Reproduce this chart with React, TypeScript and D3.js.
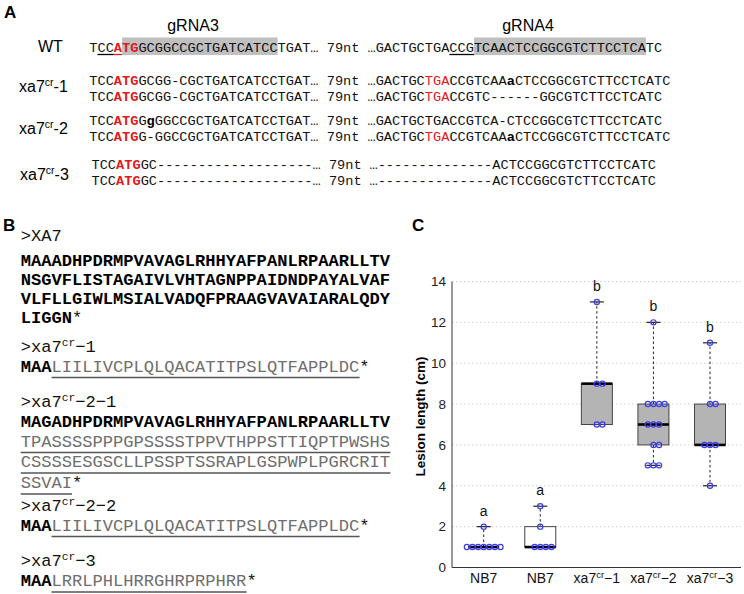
import * as d3 from 'd3'

const W = 744, H = 594

// ---- panel C data ----
const groupNames = ['NB7', 'NB7', 'xa7cr-1', 'xa7cr-2', 'xa7cr-3']
const nb7A = [1, 1, 1, 1, 1, 1, 1, 2]
const nb7B = [1, 1, 1, 1, 2, 3]
const cr1 = [7, 7, 9, 9, 13]
const cr2 = [5, 5, 5, 6, 6, 7, 7, 7, 8, 8, 8, 8, 12]
const cr3 = [4, 6, 6, 6, 8, 8, 11]
const sigLetters = ['a', 'a', 'b', 'b', 'b']
const boxFills = ['#ffffff', '#ffffff', '#b4b4b4', '#b4b4b4', '#b4b4b4']
const yTicks = [0, 2, 4, 6, 8, 10, 12, 14]

const series = [nb7A, nb7B, cr1, cr2, cr3]

const RED = '#e3191c'
const MONO = '"Liberation Mono", "Courier New", monospace'
const SANS = '"Liberation Sans", Arial, Helvetica, sans-serif'

function boxStats(vals: number[]) {
  const s = [...vals].sort(d3.ascending)
  const n = s.length
  const lo = s.slice(0, Math.ceil(n / 2))
  const hi = s.slice(Math.floor(n / 2))
  return { min: s[0], q1: d3.median(lo)!, med: d3.median(s)!, q3: d3.median(hi)!, max: s[n - 1] }
}

// points with same value sit side by side: 0, +1, -1, +2, -2 ...
function swarm(vals: number[]) {
  const seen = new Map<number, number>()
  return vals.map(v => {
    const k = seen.get(v) || 0
    seen.set(v, k + 1)
    const off = k === 0 ? 0 : k % 2 ? (k + 1) / 2 : -k / 2
    return { v, off }
  })
}

// ---- panel A sequences ----
type Seg = [string, string?]
const CW_A = 8.19
const rowsA: { y: number; x0: number; x1: number; left: Seg[]; right: Seg[] }[] = [
  { y: 51.5, x0: 89.3, x1: 367.5,
    left: [['TCC'], ['ATG', 'rb'], ['GCGGCCGCTGATCATCCTGAT… 79nt']],
    right: [['…GACTGCTGACCGTCAACTCCGGCGTCTTCCTCATC']] },
  { y: 84.5, x0: 89.3, x1: 367.5,
    left: [['TCC'], ['ATG', 'rb'], ['GCGG-CGCTGATCATCCTGAT… 79nt']],
    right: [['…GACTGC'], ['TGA', 'r'], ['CCGTCAA'], ['a', 'b'], ['CTCCGGCGTCTTCCTCATC']] },
  { y: 100.5, x0: 89.3, x1: 367.5,
    left: [['TCC'], ['ATG', 'rb'], ['GCGG-CGCTGATCATCCTGAT… 79nt']],
    right: [['…GACTGC'], ['TGA', 'r'], ['CCGTC------GGCGTCTTCCTCATC']] },
  { y: 124.5, x0: 89.3, x1: 367.5,
    left: [['TCC'], ['ATG', 'rb'], ['G'], ['g', 'b'], ['GGCCGCTGATCATCCTGAT… 79nt']],
    right: [['…GACTGCTGACCGTCA-CTCCGGCGTCTTCCTCATC']] },
  { y: 140.5, x0: 89.3, x1: 367.5,
    left: [['TCC'], ['ATG', 'rb'], ['G-GGCCGCTGATCATCCTGAT… 79nt']],
    right: [['…GACTGC'], ['TGA', 'r'], ['CCGTCAA'], ['a', 'b'], ['CTCCGGCGTCTTCCTCATC']] },
  { y: 168.5, x0: 91.5, x1: 369.5,
    left: [['TCC'], ['ATG', 'rb'], ['GC-------------------… 79nt']],
    right: [['…--------------ACTCCGGCGTCTTCCTCATC']] },
  { y: 184.5, x0: 91.5, x1: 369.5,
    left: [['TCC'], ['ATG', 'rb'], ['GC-------------------… 79nt']],
    right: [['…--------------ACTCCGGCGTCTTCCTCATC']] },
]
const labelsA = [
  { y: 52, x: 38, base: 'WT', sup: '', tail: '' },
  { y: 92, x: 19, base: 'xa7', sup: 'cr', tail: '-1' },
  { y: 134, x: 19, base: 'xa7', sup: 'cr', tail: '-2' },
  { y: 180, x: 20, base: 'xa7', sup: 'cr', tail: '-3' },
]

// ---- panel B sequences ----
const CW_B = 10.27
const XB = 20.7
const rowsB: { y: number; segs: Seg[]; ul?: [number, number] }[] = [
  { y: 241, segs: [['>XA7']] },
  { y: 266, segs: [['MAAADHPDRMPVAVAGLRHHYAFPANLRPAARLLTV', 'b']] },
  { y: 285, segs: [['NSGVFLISTAGAIVLVHTAGNPPAIDNDPAYALVAF', 'b']] },
  { y: 304, segs: [['VLFLLGIWLMSIALVADQFPRAAGVAVAIARALQDY', 'b']] },
  { y: 323, segs: [['LIGGN', 'b'], ['*']] },
  { y: 351.5, segs: [['>xa7'], ['cr', 'sup'], ['−1']] },
  { y: 371.5, segs: [['MAA', 'b'], ['LIILIVCPLQLQACATITPSLQTFAPPLDC', 'g'], ['*']], ul: [3, 33] },
  { y: 407, segs: [['>xa7'], ['cr', 'sup'], ['−2−1']] },
  { y: 426.5, segs: [['MAGADHPDRMPVAVAGLRHHYAFPANLRPAARLLTV', 'b']] },
  { y: 446.5, segs: [['TPASSSSPPPGPSSSSTPPVTHPPSTTIQPTPWSHS', 'g']], ul: [0, 36] },
  { y: 467, segs: [['CSSSSESGSCLLPSSPTSSRAPLGSPWPLPGRCRIT', 'g']], ul: [0, 36] },
  { y: 488, segs: [['SSVAI', 'g'], ['*']], ul: [0, 5] },
  { y: 510.5, segs: [['>xa7'], ['cr', 'sup'], ['−2−2']] },
  { y: 530.5, segs: [['MAA', 'b'], ['LIILIVCPLQLQACATITPSLQTFAPPLDC', 'g'], ['*']], ul: [3, 33] },
  { y: 565.5, segs: [['>xa7'], ['cr', 'sup'], ['−3']] },
  { y: 586, segs: [['MAA', 'b'], ['LRRLPHLHRRGHRPRPHRR', 'g'], ['*']], ul: [3, 22] },
]

function segStyle(k?: string) {
  if (k === 'rb') return { fill: RED, fontWeight: 'bold' as const }
  if (k === 'r') return { fill: RED }
  if (k === 'b') return { fill: '#000', fontWeight: 'bold' as const }
  if (k === 'g') return { fill: '#6e6e6e' }
  return { fill: '#111' }
}

function SeqText({ x, y, segs, size }: { x: number; y: number; segs: Seg[]; size: number }) {
  let up = false
  return (
    <text x={x} y={y} fontFamily={MONO} fontSize={size} xmlSpace="preserve">
      {segs.map(([t, k], i) => {
        if (k === 'sup') {
          up = true
          return <tspan key={i} dy={-6} fontSize={size * 0.66} fill="#111">{t}</tspan>
        }
        const dy = up ? 6 : undefined
        up = false
        return <tspan key={i} dy={dy} {...segStyle(k)}>{t}</tspan>
      })}
    </text>
  )
}

function PanelA() {
  const wt = rowsA[0]
  return (
    <g>
      <text x={4} y={18} fontFamily={SANS} fontWeight="bold" fontSize={17}>A</text>
      <text x={193} y={31} fontFamily={SANS} fontSize={16} textAnchor="middle">gRNA3</text>
      <text x={528} y={31} fontFamily={SANS} fontSize={16} textAnchor="middle">gRNA4</text>
      {/* gRNA shading + PAM underlines */}
      <rect x={wt.x0 + 4 * CW_A} y={37.5} width={19 * CW_A} height={17.5} fill="#c0c0c0" />
      <rect x={wt.x1 + 13 * CW_A} y={37.5} width={21 * CW_A} height={17.5} fill="#c0c0c0" />
      <line x1={wt.x0 + 1 * CW_A} x2={wt.x0 + 3 * CW_A} y1={54.5} y2={54.5} stroke="#000" strokeWidth={1.3} />
      <line x1={wt.x0 + 3 * CW_A} x2={wt.x0 + 4 * CW_A} y1={54.5} y2={54.5} stroke={RED} strokeWidth={1.3} />
      <line x1={wt.x1 + 10 * CW_A} x2={wt.x1 + 13 * CW_A} y1={54.5} y2={54.5} stroke="#000" strokeWidth={1.3} />
      {rowsA.map((r, i) => (
        <g key={i}>
          <SeqText x={r.x0} y={r.y} segs={r.left} size={13.65} />
          <SeqText x={r.x1} y={r.y} segs={r.right} size={13.65} />
        </g>
      ))}
      {labelsA.map((l, i) => (
        <text key={i} x={l.x} y={l.y} fontFamily={SANS} fontSize={16}>
          {l.base}
          {l.sup && <tspan dy={-6} fontSize={10.5}>{l.sup}</tspan>}
          {l.tail && <tspan dy={6}>{l.tail}</tspan>}
        </text>
      ))}
    </g>
  )
}

function PanelB() {
  return (
    <g>
      <text x={3} y={231} fontFamily={SANS} fontWeight="bold" fontSize={17}>B</text>
      {rowsB.map((r, i) => (
        <g key={i}>
          <SeqText x={XB} y={r.y} segs={r.segs} size={17.1} />
          {r.ul && (
            <line x1={XB + r.ul[0] * CW_B} x2={XB + r.ul[1] * CW_B} y1={r.y + 6} y2={r.y + 6}
              stroke="#555" strokeWidth={1.4} />
          )}
        </g>
      ))}
    </g>
  )
}

function PanelC() {
  const y = d3.scaleLinear([0, 14], [567.5, 281.5])
  const x = d3.scalePoint<number>().domain(d3.range(groupNames.length)).range([455.4, 738.3]).padding(0.5)
  const axX = 452, right = 741
  const bw = 31, capW = 14, dot = 5.6
  return (
    <g fontFamily={SANS}>
      <text x={412} y={231} fontWeight="bold" fontSize={17}>C</text>
      {yTicks.map(t => (
        <g key={t}>
          {t > 0 && <line x1={axX} x2={right} y1={y(t)} y2={y(t)} stroke="#cfcfcf" strokeDasharray="1.5,2.5" />}
          <text x={446} y={y(t)} dy="0.35em" textAnchor="end" fontSize={13.5} fill="#222">{t}</text>
        </g>
      ))}
      <line x1={axX} x2={axX} y1={y(14)} y2={y(0)} stroke="#333" strokeWidth={1} />
      <line x1={axX} x2={right} y1={y(0)} y2={y(0)} stroke="#333" strokeWidth={1} />
      <text transform={`translate(425,${y(7) - 8}) rotate(-90)`} textAnchor="middle" fontWeight="bold" fontSize={13.5}>
        Lesion length (cm)
      </text>
      {series.map((vals, i) => {
        const cx = x(i)!
        const b = boxStats(vals)
        return (
          <g key={i}>
            <line x1={cx} x2={cx} y1={y(b.q3)} y2={y(b.max)} stroke="#222" strokeDasharray="2.5,2.5" />
            <line x1={cx} x2={cx} y1={y(b.q1)} y2={y(b.min)} stroke="#222" strokeDasharray="2.5,2.5" />
            <line x1={cx - capW / 2} x2={cx + capW / 2} y1={y(b.max)} y2={y(b.max)} stroke="#222" strokeWidth={1.2} />
            <line x1={cx - capW / 2} x2={cx + capW / 2} y1={y(b.min)} y2={y(b.min)} stroke="#222" strokeWidth={1.2} />
            <rect x={cx - bw / 2} y={y(b.q3)} width={bw} height={y(b.q1) - y(b.q3)}
              fill={boxFills[i]} stroke="#444" strokeWidth={1} />
            <line x1={cx - bw / 2} x2={cx + bw / 2} y1={y(b.med)} y2={y(b.med)} stroke="#000" strokeWidth={2.6} />
            {swarm(vals).map((p, j) => (
              <circle key={j} cx={cx + p.off * dot} cy={y(p.v)} r={2.6} fill="none" stroke="#3b3bf0" strokeWidth={1.2} />
            ))}
            <text x={cx} y={y(b.max) - 11} textAnchor="middle" fontSize={14} fill="#111">{sigLetters[i]}</text>
            <text x={cx} y={583} textAnchor="middle" fontSize={14} fill="#111">
              {groupNames[i].startsWith('xa7') ? (
                <>
                  xa7<tspan dy={-5} fontSize={9.5}>cr</tspan><tspan dy={5}>{'−' + groupNames[i].slice(-1)}</tspan>
                </>
              ) : groupNames[i]}
            </text>
          </g>
        )
      })}
    </g>
  )
}

export default function App() {
  return (
    <svg width={W} height={H} viewBox={`0 0 ${W} ${H}`}
      style={{ position: 'absolute', left: 0, top: 0, background: '#fff' }}>
      <rect width={W} height={H} fill="#fff" />
      <PanelA />
      <PanelB />
      <PanelC />
    </svg>
  )
}
